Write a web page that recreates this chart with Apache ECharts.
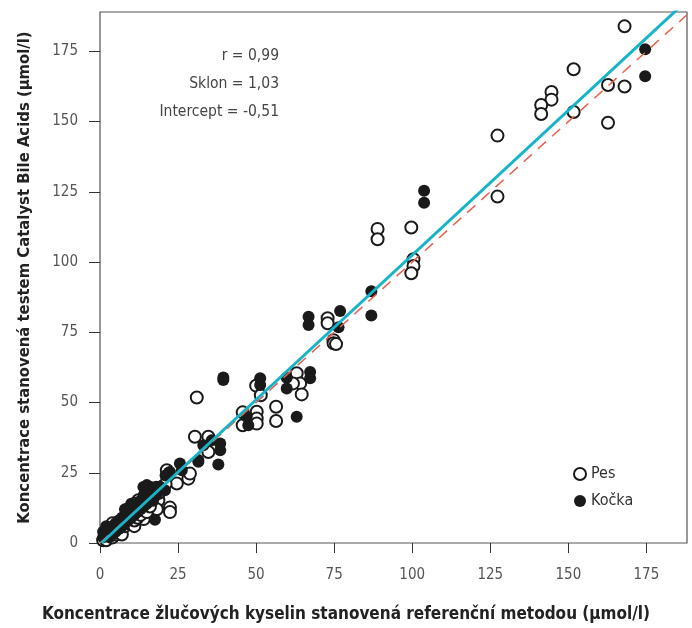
<!DOCTYPE html>
<html>
<head>
<meta charset="utf-8">
<script src="https://cdn.jsdelivr.net/npm/echarts@6/dist/echarts.min.js"></script>
<style>
  html, body { margin: 0; padding: 0; background: #fff; }
  #chart { width: 692px; height: 628px; }
</style>
</head>
<body>
<div id="chart"></div>
<script>
// pes = otevřené kroužky, kočka = plné body  [referenční metoda, Catalyst]
const pesData = [
  [168.0, 183.9], [151.7, 168.6], [144.6, 160.5], [144.6, 157.8], [141.3, 155.9],
  [141.3, 152.7], [151.7, 153.4], [162.7, 163.0], [168.0, 162.5], [162.7, 149.6],
  [127.3, 145.0], [127.3, 123.3], [88.9, 111.8], [88.9, 108.1], [99.7, 112.3],
  [100.4, 101.0], [100.4, 98.6], [99.7, 96.0],
  [72.9, 80.0], [72.9, 78.2], [74.8, 72.2], [74.8, 71.1], [75.6, 70.8],
  [31.0, 51.8], [50.0, 56.0], [51.5, 52.6], [63.0, 60.4], [64.1, 56.8], [61.8, 56.8],
  [64.6, 52.9], [56.4, 48.5], [56.4, 43.4], [45.7, 46.5], [45.7, 41.9],
  [50.2, 46.7], [50.2, 44.3], [50.2, 42.5],
  [30.4, 37.8], [34.7, 37.8], [34.7, 32.4], [28.3, 22.9], [22.4, 12.6], [22.4, 11.0],
  [18.2, 14.6], [21.4, 25.9], [24.6, 21.2], [28.8, 24.7],
  [12.3, 15.2], [18.7, 15.2], [18.2, 12.0], [14.0, 8.5], [11.2, 14.0],
  [1, 1], [2, 1], [2, 4], [3, 3], [4, 2], [4, 7], [5, 3], [6, 4], [7, 8], [7, 3],
  [8, 6], [9, 7], [10, 7], [11, 6], [11, 8], [12, 9], [13, 10], [14, 12], [15, 11],
  [16, 13], [19, 18], [20, 20], [21, 21], [9, 12]
];
const kockaData = [
  [174.6, 175.7], [174.6, 166.1], [103.8, 125.4], [103.8, 121.1], [86.9, 89.6],
  [86.9, 81.0], [76.9, 82.6], [76.4, 76.8], [66.8, 80.5], [66.8, 77.6],
  [39.5, 58.9], [39.5, 58.0], [51.3, 58.6], [51.3, 56.2], [59.8, 58.8], [59.8, 55.0],
  [67.3, 60.9], [67.3, 58.6], [63.0, 44.9], [47.0, 44.9], [47.5, 41.9],
  [37.9, 27.9], [31.5, 28.9], [31.5, 29.5], [33.1, 34.8], [35.8, 36.6], [38.5, 35.4],
  [38.5, 33.0], [25.6, 28.3], [26.2, 25.9], [22.4, 25.3], [17.6, 8.3],
  [1, 2], [2, 3], [3, 4], [3, 2], [4, 5], [5, 4], [5, 6], [6, 5], [6, 7], [7, 6],
  [8, 9], [9, 10], [9, 8], [10, 11], [10, 12], [11, 10], [11, 12], [12, 13], [12, 11],
  [13, 14], [13, 12], [14, 15], [14, 17], [15, 19], [15, 16], [16, 18], [16, 20],
  [17, 19], [18, 17], [19, 20], [20, 19], [17, 15], [21, 24], [22, 25], [11.7, 12.3],
  [13.9, 19.9], [15.0, 20.6], [19.2, 20.0], [20.8, 18.8],
  [2, 4], [3, 5], [4, 3], [5, 7], [6, 8], [7, 9], [8, 7], [8, 10], [9, 11], [10, 9],
  [11, 13], [12, 14], [13, 15], [14, 13], [15, 14], [16, 16], [17, 18], [18, 20],
  [19, 19], [4, 6], [6, 6], [7, 7], [10, 10], [13, 13], [1, 4], [2, 6], [8, 12], [10, 14]
];
const seriesNames = ["Pes", "Kočka"];
const xTicks = [0, 25, 50, 75, 100, 125, 150, 175];
const yTicks = [0, 25, 50, 75, 100, 125, 150, 175];
const xMax = 188;
const yMax = 189;
// regrese
const rValue = "0,99";
const slope = 1.03;
const intercept = -0.51;

const font = "'Liberation Sans Narrow', 'DejaVu Sans Condensed', sans-serif";

const chart = echarts.init(document.getElementById("chart"));
const option = {
  animation: false,
  grid: {
    left: 100, right: 5, top: 12, bottom: 85,
    show: true, borderColor: "#555", borderWidth: 1.2
  },
  xAxis: {
    type: "value", min: 0, max: xMax, interval: 25,
    axisLine: { show: false },
    axisTick: { show: true, length: 10, customValues: xTicks, lineStyle: { color: "#333" } },
    splitLine: { show: false },
    axisLabel: {
      margin: 25, fontSize: 15, fontFamily: font, color: "#555",
      customValues: xTicks
    }
  },
  yAxis: {
    type: "value", min: 0, max: yMax, interval: 25,
    axisLine: { show: false },
    axisTick: { show: true, length: 11, customValues: yTicks, lineStyle: { color: "#333" } },
    splitLine: { show: false },
    axisLabel: {
      margin: 22, fontSize: 15, fontFamily: font, color: "#555",
      customValues: yTicks
    },
    name: "Koncentrace stanovená testem Catalyst Bile Acids (µmol/l)",
    nameLocation: "middle",
    nameGap: 67,
    nameTextStyle: { fontSize: 16.5, fontWeight: "bold", fontFamily: font, color: "#222" }
  },
  legend: {
    orient: "vertical",
    left: 568, top: 461,
    itemWidth: 12, itemHeight: 12, itemGap: 11,
    textStyle: { fontSize: 16, fontFamily: font, color: "#333" },
    data: seriesNames.map((n) => ({ name: n, icon: "circle" }))
  },
  graphic: [
    {
      type: "text", left: "center", top: 606,
      style: {
        text: "Koncentrace žlučových kyselin stanovená referenční metodou (µmol/l)",
        font: "bold 17px " + font, fill: "#222"
      }
    },
    { type: "text", right: 413, top: 48, style: { text: "r = " + rValue, font: "15.5px " + font, fill: "#444", textAlign: "right" } },
    { type: "text", right: 413, top: 76, style: { text: "Sklon = " + String(slope).replace(".", ","), font: "15.5px " + font, fill: "#444", textAlign: "right" } },
    { type: "text", right: 413, top: 104, style: { text: "Intercept = " + String(intercept).replace(".", ","), font: "15.5px " + font, fill: "#444", textAlign: "right" } }
  ],
  series: [
    {
      name: seriesNames[0], type: "scatter", data: pesData, symbolSize: 12, z: 2,
      itemStyle: { color: "#fff", borderColor: "#1a1a1a", borderWidth: 2, opacity: 1 }
    },
    {
      name: seriesNames[1], type: "scatter", data: kockaData, symbolSize: 12, z: 3,
      itemStyle: { color: "#1a1a1a", borderColor: "#1a1a1a", borderWidth: 0, opacity: 1 }
    },
    {
      type: "line", data: [[0, 0], [xMax, xMax]], symbol: "none", z: 4, silent: true,
      lineStyle: { color: "#e8604c", width: 1.5, type: [11, 8] }
    },
    {
      type: "line", data: [[-intercept / slope, 0], [xMax, slope * xMax + intercept]], symbol: "none", z: 5, silent: true,
      lineStyle: { color: "#17b3c6", width: 3 }
    }
  ]
};
chart.setOption(option);
</script>
</body>
</html>
